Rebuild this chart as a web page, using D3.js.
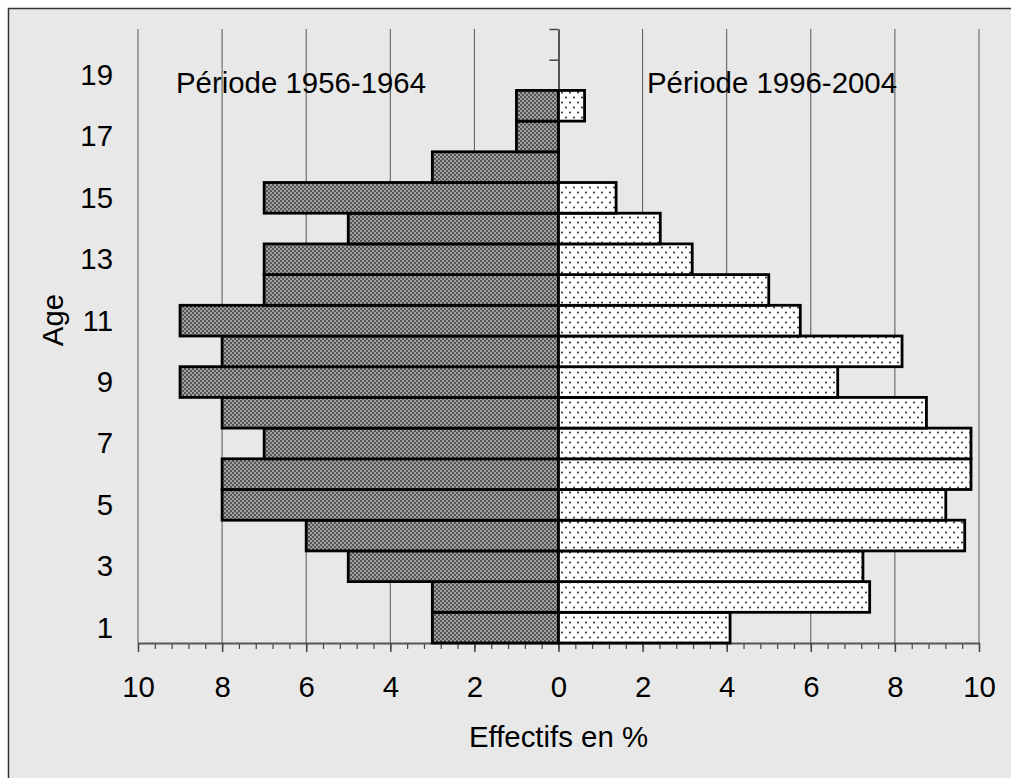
<!DOCTYPE html>
<html>
<head>
<meta charset="utf-8">
<script src="https://cdn.jsdelivr.net/npm/d3@7"></script>
<style>
  html, body { margin: 0; padding: 0; background: #ffffff; }
  svg { display: block; }
  text { font-family: "Liberation Sans", Arial, sans-serif; fill: #000; }
</style>
</head>
<body>
<svg id="chart" width="1011" height="778"></svg>
<script>
// ---- data ----
const ages = [1,2,3,4,5,6,7,8,9,10,11,12,13,14,15,16,17,18];
const period1956 = [3,3,5,6,8,8,7,8,9,8,9,7,7,5,7,3,1,1];
const period1996 = [4.08,7.40,7.24,9.66,9.21,9.81,9.81,8.75,6.64,8.17,5.75,5.00,3.18,2.42,1.37,0,0,0.62];
const xTickValues = [-10,-8,-6,-4,-2,0,2,4,6,8,10];
const yLabelValues = [1,3,5,7,9,11,13,15,17,19];
const seriesLabels = ["Période 1956-1964", "Période 1996-2004"];
const xTitle = "Effectifs en %";
const yTitle = "Age";

const svg = d3.select("#chart");
const FONT = 29.4;

// frame
svg.append("rect").attr("x", 8.5).attr("y", 8.5).attr("width", 1100).attr("height", 900)
  .attr("fill", "#e8e8e8").attr("stroke", "#333").attr("stroke-width", 1.5);

// patterns
const defs = svg.append("defs");
const pDark = defs.append("pattern").attr("id", "dark").attr("patternUnits", "userSpaceOnUse")
  .attr("width", 4).attr("height", 4);
pDark.append("rect").attr("width", 4).attr("height", 4).attr("fill", "#a0a0a0");
pDark.append("rect").attr("x", 0).attr("y", 0).attr("width", 2).attr("height", 2).attr("fill", "#555");
pDark.append("rect").attr("x", 2).attr("y", 2).attr("width", 2).attr("height", 2).attr("fill", "#555");
const pDots = defs.append("pattern").attr("id", "dots").attr("patternUnits", "userSpaceOnUse")
  .attr("width", 8).attr("height", 10);
pDots.append("rect").attr("width", 8).attr("height", 10).attr("fill", "#ffffff");
pDots.append("circle").attr("cx", 2).attr("cy", 2.5).attr("r", 1).attr("fill", "#222");
pDots.append("circle").attr("cx", 6).attr("cy", 7.5).attr("r", 1).attr("fill", "#222");

// scales
const x = d3.scaleLinear().domain([-10, 10]).range([138, 979]);
const y = d3.scaleLinear().domain([0.5, 20.5]).range([643, 29]);

// gridlines
svg.append("g").selectAll("line").data(xTickValues.filter(v => v !== 0)).join("line")
  .attr("x1", d => x(d)).attr("x2", d => x(d))
  .attr("y1", y(20.5)).attr("y2", y(0.5))
  .attr("stroke", "#555").attr("stroke-width", 1);

// x axis minor ticks
const minorTicks = d3.range(-25, 26).map(i => i * 0.4).filter(v => Math.abs(v) <= 10.001);
const xMinor = svg.append("g").attr("transform", `translate(0,${y(0.5)})`)
  .call(d3.axisBottom(x).tickValues(minorTicks).tickSize(6).tickFormat(""));
xMinor.select(".domain").remove();
xMinor.selectAll(".tick line").attr("stroke", "#444").attr("stroke-width", 1.2);

// x axis major
const xAxis = svg.append("g").attr("transform", `translate(0,${y(0.5)})`)
  .call(d3.axisBottom(x).tickValues(xTickValues).tickSize(9).tickSizeOuter(0)
    .tickFormat(d => Math.abs(d)));
xAxis.select(".domain").attr("stroke", "#555").attr("stroke-width", 2);
xAxis.selectAll(".tick line").attr("stroke", "#444").attr("stroke-width", 1.5);
xAxis.selectAll(".tick text").attr("y", 54).attr("dy", null)
  .style("font-size", FONT + "px").style("font-family", "Liberation Sans, Arial, sans-serif").attr("fill", "#000");

// y axis (ticks at band boundaries)
const yTicks = d3.range(0, 21).map(i => i + 0.5);
const yAxis = svg.append("g").attr("transform", `translate(${x(0)},0)`)
  .call(d3.axisLeft(y).tickValues(yTicks).tickSize(9).tickSizeOuter(0).tickFormat(""));
yAxis.select(".domain").attr("stroke", "#555").attr("stroke-width", 2);
yAxis.selectAll(".tick line").attr("stroke", "#444").attr("stroke-width", 1.5);

// y labels
const yLab = svg.append("g").attr("transform", `translate(113,0)`)
  .call(d3.axisLeft(y).tickValues(yLabelValues).tickSize(0).tickPadding(0));
yLab.select(".domain").remove();
yLab.selectAll(".tick text").style("font-size", FONT + "px")
  .style("font-family", "Liberation Sans, Arial, sans-serif").attr("fill", "#000");

// bars
const rows = ages.map((a, i) => ({ age: a, left: period1956[i], right: period1996[i] }));
svg.append("g").selectAll("rect").data(rows).join("rect")
  .attr("x", d => x(-d.left)).attr("width", d => x(0) - x(-d.left))
  .attr("y", d => y(d.age + 0.5)).attr("height", d => y(d.age - 0.5) - y(d.age + 0.5))
  .attr("fill", "url(#dark)").attr("stroke", "#000").attr("stroke-width", 2.8);
svg.append("g").selectAll("rect").data(rows.filter(d => d.right > 0)).join("rect")
  .attr("x", x(0)).attr("width", d => x(d.right) - x(0))
  .attr("y", d => y(d.age + 0.5)).attr("height", d => y(d.age - 0.5) - y(d.age + 0.5))
  .attr("fill", "url(#dots)").attr("stroke", "#000").attr("stroke-width", 2.8);

// labels
svg.append("text").attr("x", 176).attr("y", 93).style("font-size", FONT + "px").text(seriesLabels[0]);
svg.append("text").attr("x", 647).attr("y", 93).style("font-size", FONT + "px").text(seriesLabels[1]);
svg.append("text").attr("x", x(0)).attr("y", 747).attr("text-anchor", "middle")
  .style("font-size", FONT + "px").text(xTitle);
svg.append("text").attr("transform", "translate(63,320) rotate(-90)").attr("text-anchor", "middle")
  .style("font-size", FONT + "px").text(yTitle);
</script>
</body>
</html>
